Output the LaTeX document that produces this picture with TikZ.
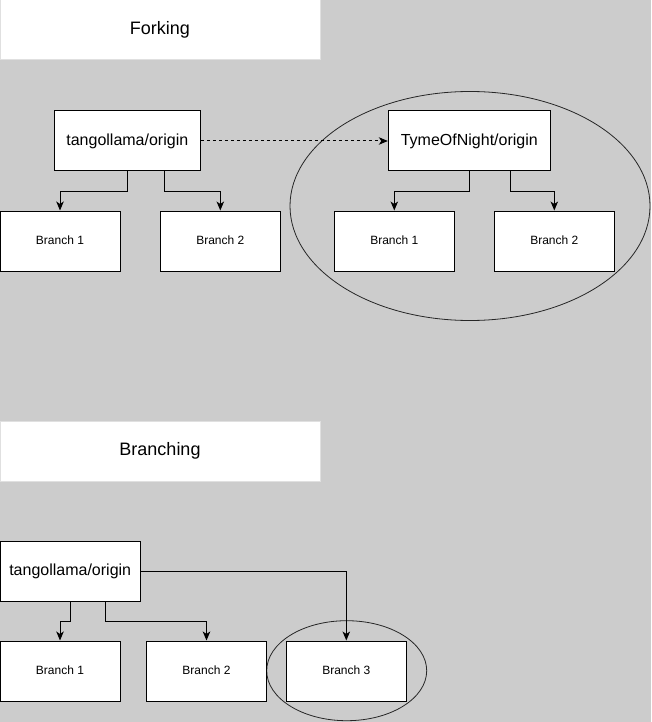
\documentclass[tikz,border=0pt]{standalone}
\usepackage{fontspec}
\setmainfont{Liberation Sans}
\usetikzlibrary{arrows.meta}
\begin{document}
\begin{tikzpicture}[x=1pt,y=-1pt,>={Stealth[length=9pt,width=7.5pt,inset=2.5pt]},line width=1pt,
  title/.style={draw=black!12,fill=white,minimum width=320pt,minimum height=60pt,font=\fontsize{18}{20}\selectfont,inner sep=0pt},
  repo/.style={draw,fill=white,minimum height=60pt,font=\fontsize{16}{18}\selectfont,inner sep=0pt},
  branch/.style={draw,fill=white,minimum width=120pt,minimum height=60pt,font=\fontsize{12}{14}\selectfont,inner sep=0pt},
  ring/.style={draw=black!85,line width=0.8pt}]
\useasboundingbox (0,0) rectangle (651,722);
\fill [black!20] (0,0) rectangle (651,722);
% forking
\node [title] (forktitle) at (160,30) {\raisebox{1pt}{Forking}};
\draw [ring] (470,206) ellipse [x radius=180pt,y radius=114.5pt];
\node [repo,minimum width=146pt] (orig) at (127.3,141) {tangollama/origin};
\node [repo,minimum width=162pt] (fork) at (469.3,141) {TymeOfNight/origin};
\node [branch] (ob1) at (60,241) {\raisebox{1pt}{Branch 1}};
\node [branch] (ob2) at (220.3,241) {\raisebox{1pt}{Branch 2}};
\node [branch] (fb1) at (394.3,241) {\raisebox{1pt}{Branch 1}};
\node [branch] (fb2) at (554.3,241) {\raisebox{1pt}{Branch 2}};
\draw [->,dash pattern=on 3pt off 3pt] (orig) -- (fork);
\draw [->] (orig.south) -- ++(0,20) -| (ob1.north);
\draw [->] ([xshift=37pt]orig.south) -- ++(0,20) -| (ob2.north);
\draw [->] (fork.south) -- ++(0,20) -| (fb1.north);
\draw [->] ([xshift=40.7pt]fork.south) -- ++(0,20) -| (fb2.north);
% branching
\node [title] (branchtitle) at (160,451) {\raisebox{1pt}{Branching}};
\draw [ring] (346.7,670.7) ellipse [x radius=80pt,y radius=50pt];
\node [repo,minimum width=140pt] (main) at (70.2,571) {tangollama/origin};
\node [branch] (mb1) at (60,671) {\raisebox{1pt}{Branch 1}};
\node [branch] (mb2) at (206.5,671) {\raisebox{1pt}{Branch 2}};
\node [branch] (mb3) at (346.3,671) {\raisebox{1pt}{Branch 3}};
\draw [->] (main.south) -- ++(0,20) -| (mb1.north);
\draw [->] ([xshift=35pt]main.south) -- ++(0,20) -| (mb2.north);
\draw [->] (main.east) -| (mb3.north);
\end{tikzpicture}
\end{document}
